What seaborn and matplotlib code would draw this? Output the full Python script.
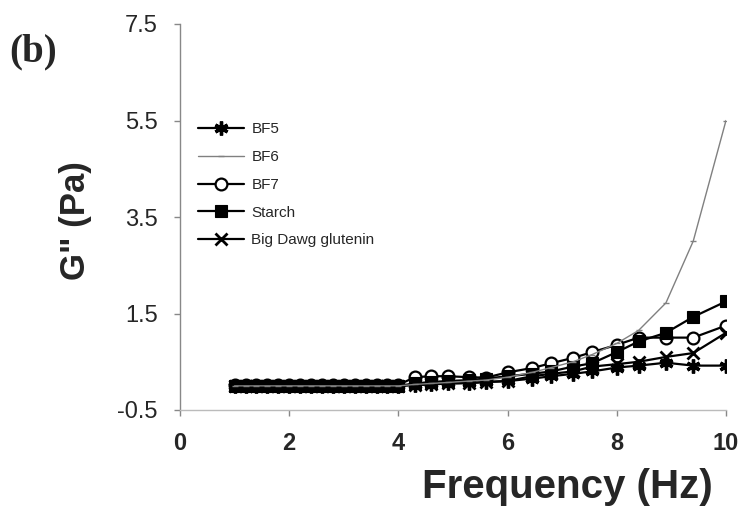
import matplotlib
matplotlib.use("Agg")
import matplotlib.pyplot as plt
import seaborn as sns

sns.set_theme(style="white")
plt.rcParams['font.family'] = ['Liberation Sans', 'DejaVu Sans']

freq = [1.0, 1.2, 1.4, 1.6, 1.8, 2.0, 2.2, 2.4, 2.6, 2.8, 3.0, 3.2, 3.4, 3.6, 3.8, 4.0,
        4.3, 4.6, 4.9, 5.3, 5.6, 6.0, 6.45, 6.8, 7.2, 7.55, 8.0, 8.4, 8.9, 9.4, 10.0]
base = [0.0] * 16
bf5 = base + [0.02, 0.03, 0.05, 0.06, 0.08, 0.10, 0.15, 0.20, 0.25, 0.30, 0.38, 0.42, 0.48, 0.42, 0.42]
bf6 = base + [0.03, 0.05, 0.07, 0.10, 0.12, 0.18, 0.28, 0.38, 0.50, 0.65, 0.88, 1.15, 1.72, 3.00, 5.50]
bf7 = [0.02] * 16 + [0.18, 0.20, 0.20, 0.18, 0.17, 0.28, 0.37, 0.47, 0.58, 0.70, 0.85, 1.00, 1.00, 1.00, 1.25]
starch = base + [0.05, 0.08, 0.10, 0.12, 0.15, 0.20, 0.25, 0.30, 0.40, 0.47, 0.70, 0.92, 1.10, 1.43, 1.75]
bigdawg = base + [0.02, 0.03, 0.05, 0.06, 0.08, 0.10, 0.20, 0.25, 0.30, 0.40, 0.45, 0.50, 0.60, 0.68, 1.10]

labels = ["BF5", "BF6", "BF7", "Starch", "Big Dawg glutenin"]
xticks = [0, 2, 4, 6, 8, 10]
yticks = [-0.5, 1.5, 3.5, 5.5, 7.5]

fig = plt.figure(figsize=(7.43, 5.27), dpi=100)
ax = fig.add_axes([180/743, 1-410/527, 546/743, 386/527])

styles = [
    dict(y=bf7, color="black", marker="o", markersize=8.5, markerfacecolor="white",
         markeredgecolor="black", markeredgewidth=1.6, linewidth=1.6, zorder=3),
    dict(y=bf5, color="black", marker=(6, 2, 0), markersize=10, markeredgewidth=2.4,
         markeredgecolor="black", linewidth=1.6, zorder=4),
    dict(y=starch, color="black", marker="s", markersize=8.5, markeredgewidth=0.8,
         markeredgecolor="black", markerfacecolor="black", linewidth=1.6, zorder=5),
    dict(y=bigdawg, color="black", marker="x", markersize=9, markeredgewidth=2,
         markeredgecolor="black", linewidth=1.6, zorder=6),
    dict(y=bf6, color="#808080", marker="_", markersize=5, markeredgewidth=1,
         markeredgecolor="#808080", linewidth=1.0, zorder=7),
]
order = [2, 0, 3, 4, 1]
handles = {}
for idx, st in zip(order, styles):
    yv = st.pop("y")
    sns.lineplot(x=freq, y=yv, ax=ax, label=labels[idx], **st)
    handles[labels[idx]] = ax.lines[-1]

ax.set_xlim(0, 10)
ax.set_ylim(-0.5, 7.5)
ax.set_xticks(xticks)
ax.set_xticklabels([str(t) for t in xticks], fontsize=17, fontweight="bold")
ax.set_yticks(yticks)
ax.set_yticklabels([str(t) for t in yticks], fontsize=17)
ax.tick_params(axis="both", direction="out", length=4, width=1, color="#888888", pad=12,
               bottom=True, left=True)

for s in ["top", "right"]:
    ax.spines[s].set_visible(False)
ax.spines["left"].set_color("#888888")
ax.spines["left"].set_linewidth(1)
ax.spines["bottom"].set_color("#bbbbbb")
ax.spines["bottom"].set_linewidth(1)

ax.set_xlabel("Frequency (Hz)", fontsize=29, fontweight="bold")
ax.xaxis.set_label_coords(0.71, -0.15)
ax.set_ylabel('G" (Pa)', fontsize=25, fontweight="bold")
ax.yaxis.set_label_coords(-0.161, 0.49)

leg = ax.legend([handles[l] for l in labels], labels, loc="upper left",
                bbox_to_anchor=(0.033, 0.745), frameon=False,
                fontsize=11, handlelength=3, handletextpad=0.5, labelspacing=0.9,
                borderpad=0, borderaxespad=0)

fig.text(0.013, 0.901, "(b)", fontsize=28, fontweight="bold", va="center", ha="left",
         family=["Liberation Serif", "DejaVu Serif"])

fig.savefig("out.png", dpi=100)
